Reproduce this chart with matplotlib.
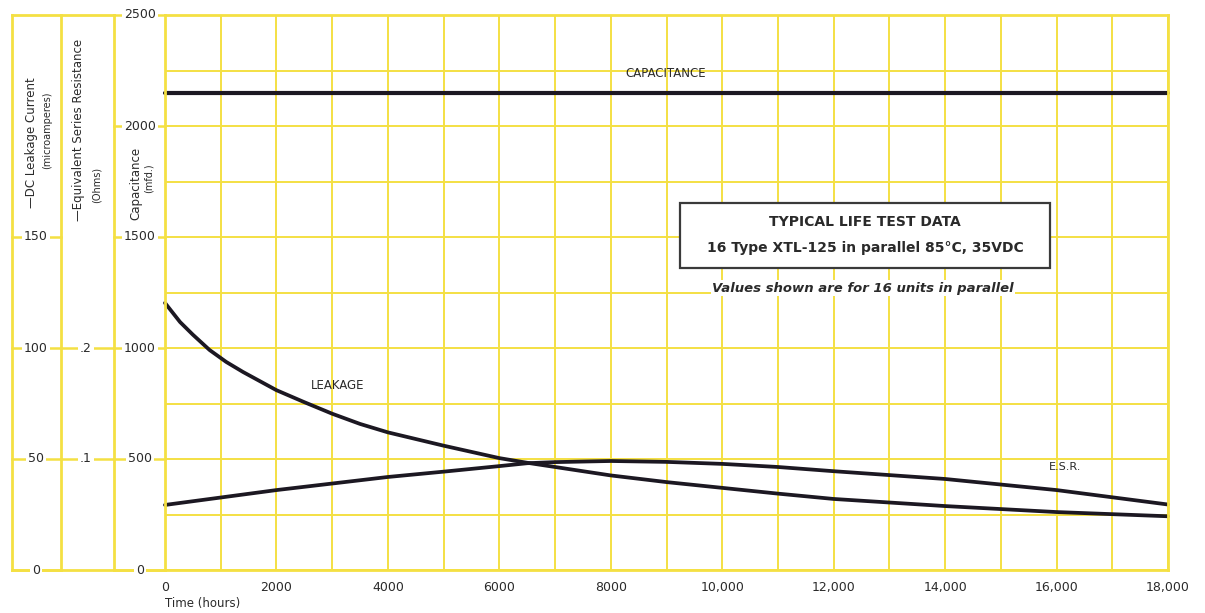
import numpy as np
import matplotlib.pyplot as plt
from matplotlib.patches import Rectangle

# life test readings, 16 units in parallel
hours_cap = [0, 18000]
capacitance = [2150, 2150]  # mfd

hours_leak = [0, 270, 500, 800, 1100, 1400, 1700, 2000, 2500, 3000, 3500, 4000, 5000,
              6000, 6500, 7000, 8000, 9000, 10000, 11000, 12000, 14000, 16000, 18000]
leakage = [120.3, 111.7, 106, 99.1, 93.7, 89.2, 85.1, 81, 75.6, 70.4, 65.8, 62, 56,
           50.4, 48.3, 46.4, 42.6, 39.6, 37, 34.4, 32, 28.8, 26.1, 24.2]  # microamperes

hours_esr = [0, 2000, 4000, 5000, 6000, 6500, 7000, 8000, 9000, 10000, 11000,
             12000, 14000, 16000, 18000]
esr = [0.0586, 0.072, 0.0838, 0.0886, 0.0936, 0.0962, 0.0972, 0.0982, 0.0974,
       0.0956, 0.0928, 0.089, 0.082, 0.072, 0.059]  # ohms

x_ticks = [0, 2000, 4000, 6000, 8000, 10000, 12000, 14000, 16000, 18000]
x_labels = ['0', '2000', '4000', '6000', '8000', '10,000', '12,000', '14,000', '16,000', '18,000']
cap_ticks = [0, 500, 1000, 1500, 2000, 2500]
leak_ticks = [0, 50, 100, 150]
esr_ticks = [0.1, 0.2]
esr_labels = ['.1', '.2']

# scale factors onto the capacitance axis
LEAK_K = 10.0
ESR_K = 5000.0

YEL = '#f4e043'
INK = '#1c1822'
TXT = '#2a2a2a'

W, H = 1205, 613
fig = plt.figure(figsize=(W / 100, H / 100), dpi=100)
fig.patch.set_facecolor('white')

def fx(px):
    return px / W

def fy(py):
    return 1 - py / H

left, right, top, bottom = 165, 1168, 15, 570
ax = fig.add_axes([fx(left), fy(bottom), fx(right - left), (bottom - top) / H])
ax.set_xlim(0, 18000)
ax.set_ylim(0, 2500)

ax.set_xticks(x_ticks)
ax.set_xticklabels(x_labels, fontsize=9, color=TXT)
ax.set_xticks(np.arange(0, 18001, 1000), minor=True)
ax.set_yticks(cap_ticks)
ax.set_yticks(np.arange(0, 2501, 250), minor=True)
ax.set_yticklabels([])
ax.tick_params(which='both', length=0, pad=8)
ax.grid(which='both', color=YEL, lw=1.4)
ax.set_axisbelow(True)
for s in ax.spines.values():
    s.set_color(YEL)
    s.set_linewidth(2)

ax.plot(hours_cap, capacitance, color=INK, lw=3, solid_capstyle='round', clip_on=False)
ax.plot(hours_leak, np.array(leakage) * LEAK_K, color=INK, lw=2.7,
        solid_capstyle='round', solid_joinstyle='round', clip_on=False)
ax.plot(hours_esr, np.array(esr) * ESR_K, color=INK, lw=2.7,
        solid_capstyle='round', solid_joinstyle='round', clip_on=False)

ax.text(8990, 2205, 'CAPACITANCE', fontsize=8.5, color=TXT, ha='center', va='bottom')
ax.text(3100, 800, 'LEAKAGE', fontsize=8.5, color=TXT, ha='center', va='bottom')
ax.text(16150, 440, 'E.S.R.', fontsize=8, color=TXT, ha='center', va='bottom')

# left scale strips, x in pixels
lax = fig.add_axes([0, fy(bottom), fx(left), (bottom - top) / H])
lax.set_xlim(0, left)
lax.set_ylim(0, 2500)
lax.axis('off')

for x0 in (12, 61, 114):
    lax.plot([x0, x0], [0, 2500], color=YEL, lw=2, clip_on=False)
lax.plot([12, 114], [2500, 2500], color=YEL, lw=2, clip_on=False)
lax.plot([12, left], [0, 0], color=YEL, lw=2, clip_on=False)

lbl = dict(fontsize=9, color=TXT, ha='center', va='center', zorder=5,
           bbox=dict(boxstyle='square,pad=0.15', fc='white', ec='none'))

for v in leak_ticks:
    y = v * LEAK_K
    lax.plot([12, 61], [y, y], color=YEL, lw=1.8, clip_on=False)
    lax.text(36, y, str(v), **lbl)
for v, s in zip(esr_ticks, esr_labels):
    y = v * ESR_K
    lax.plot([61, 114], [y, y], color=YEL, lw=1.8, clip_on=False)
    lax.text(86, y, s, **lbl)
for v in cap_ticks:
    lax.plot([114, left], [v, v], color=YEL, lw=1.8, clip_on=False)
    lax.text(140, v, str(v), **lbl)

# axis titles in the strips
def vtext(px, py, s, size):
    fig.text(fx(px), fy(py), s, rotation=90, fontsize=size, color=TXT,
             ha='center', va='center')

vtext(32, 143, '\u2014DC Leakage Current', 8.5)
vtext(47, 130, '(microamperes)', 7)
vtext(78, 130, '\u2014Equivalent Series Resistance', 8.5)
vtext(97, 185, '(Ohms)', 7)
vtext(136, 183, 'Capacitance', 8.5)
vtext(149, 178, '(mfd.)', 7)

fig.text(fx(165), fy(604), 'Time (hours)', fontsize=8.5, color=TXT, ha='left', va='center')

# legend box
fig.patches.append(Rectangle((fx(680), fy(268)), fx(370), (268 - 203) / H,
                             transform=fig.transFigure, fc='white', ec='#3a3a3a',
                             lw=1.6, zorder=3))
fig.text(fx(865), fy(222), 'TYPICAL LIFE TEST DATA', fontsize=10, fontweight='bold',
         color=TXT, ha='center', va='center', zorder=4)
fig.text(fx(865), fy(248), '16 Type XTL-125 in parallel 85\u00b0C, 35VDC', fontsize=10,
         fontweight='bold', color=TXT, ha='center', va='center', zorder=4)
fig.text(fx(863), fy(288), 'Values shown are for 16 units in parallel', fontsize=9.5,
         fontweight='bold', style='italic', color=TXT, ha='center', va='center',
         zorder=4, bbox=dict(boxstyle='square,pad=0.1', fc='white', ec='none'))

fig.savefig('out.png', dpi=100, facecolor='white')
